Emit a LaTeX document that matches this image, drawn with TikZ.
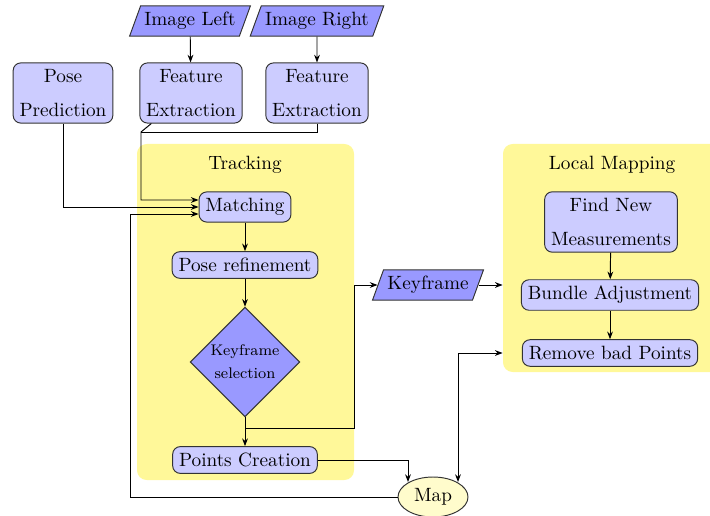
\documentclass[tikz,border=0pt]{standalone}
\usetikzlibrary{shapes.geometric,arrows.meta,calc,fit}
\definecolor{boxfill}{RGB}{204,204,255}
\definecolor{iofill}{RGB}{153,153,255}
\definecolor{bgyellow}{RGB}{255,248,153}
\definecolor{mapfill}{RGB}{255,252,204}
\begin{document}
\begin{tikzpicture}[x=0.52pt,y=-0.52pt,
  box/.style={draw=black!80, fill=boxfill, rounded corners=4pt, align=center, line width=0.5pt},
  io/.style={draw=black!80, fill=iofill, trapezium, trapezium left angle=70, trapezium right angle=110, minimum height=15.6pt, inner xsep=2pt, line width=0.5pt},
  dec/.style={draw=black!80, fill=iofill, diamond, aspect=1, minimum width=57pt, minimum height=57pt, inner sep=0pt, align=center, font=\footnotesize, line width=0.5pt},
  bg/.style={fill=bgyellow, rounded corners=5pt, inner sep=0pt},
  mapstyle/.style={draw=black!80, fill=mapfill, ellipse, minimum width=36.4pt, minimum height=20.8pt, inner sep=0pt, line width=0.5pt},
  arr/.style={-{Stealth[length=4pt,width=3pt]}, line width=0.5pt},
  darr/.style={{Stealth[length=4pt,width=3pt]}-{Stealth[length=4pt,width=3pt]}, line width=0.5pt},
  ln/.style={line width=0.5pt}]
\useasboundingbox (0,0) rectangle (710,515);
% backgrounds
\coordinate (tr1) at (137,144);
\coordinate (tr2) at (354,480);
\coordinate (lm1) at (503,144);
\coordinate (lm2) at (722,372);
\node[bg, fit=(tr1)(tr2)] (trk) {};
\node[bg, fit=(lm1)(lm2)] (lm) {};
\node (trklabel) at (245,165) {Tracking};
\node (lmlabel) at (612,165) {Local Mapping};
% inputs
\node[io] (il) at (190,21) {Image Left};
\node[io] (ir) at (317,21) {Image Right};
\node[box] (pp) at (63,93) {Pose\\[5.7pt]Prediction};
\node[box] (fe1) at (191,93) {Feature\\[5.7pt]Extraction};
\node[box] (fe2) at (317,93) {Feature\\[5.7pt]Extraction};
% tracking
\node[box] (m) at (245,207) {Matching};
\node[box] (pr) at (245,265) {Pose refinement};
\node[dec] (ks) at (245,362) {Keyframe\\[2.5pt]selection};
\node[box] (pc) at (245,460) {Points Creation};
% keyframe
\node[io] (kf) at (428,285) {Keyframe};
% local mapping
\node[box] (fn) at (611,222) {Find New\\[5.7pt]Measurements};
\node[box] (ba) at (610,295) {Bundle Adjustment};
\node[box] (rb) at (610,353) {Remove bad Points};
% map
\node[mapstyle] (map) at (433,497) {Map};
% connectors
\draw[arr] (il) -- (fe1);
\draw[arr] (ir) -- (fe2);
\coordinate (j) at (141,132);
\draw[ln] (fe2.south) |- (j);
\draw[arr] ($(fe1.south west)+(12,0)$) -- (j) |- ($(m.west)+(0,-7)$);
\draw[arr] (pp.south) |- (m.west);
\coordinate (lb) at (130,497);
\draw[arr] (map.west) -- (lb) |- ($(m.west)+(0,7)$);
\draw[arr] (m) -- (pr);
\draw[arr] (pr) -- (ks);
\draw[arr] (ks) -- (pc);
\draw[arr] ($(ks.south)+(0,11)$) -| (trk.east |- kf.west) -- (kf.west);
\draw[arr] (kf.east) -- (kf.east -| lm.west);
\draw[arr] (fn) -- (ba);
\draw[arr] (ba) -- (rb);
\draw[arr] (pc.east) -| ($(map.center)+(-25,-15)$);
\coordinate (mr) at ($(map.center)+(25,-15)$);
\draw[darr] (mr) |- (mr |- rb.west) -- (lm.west |- rb.west);
\end{tikzpicture}
\end{document}
